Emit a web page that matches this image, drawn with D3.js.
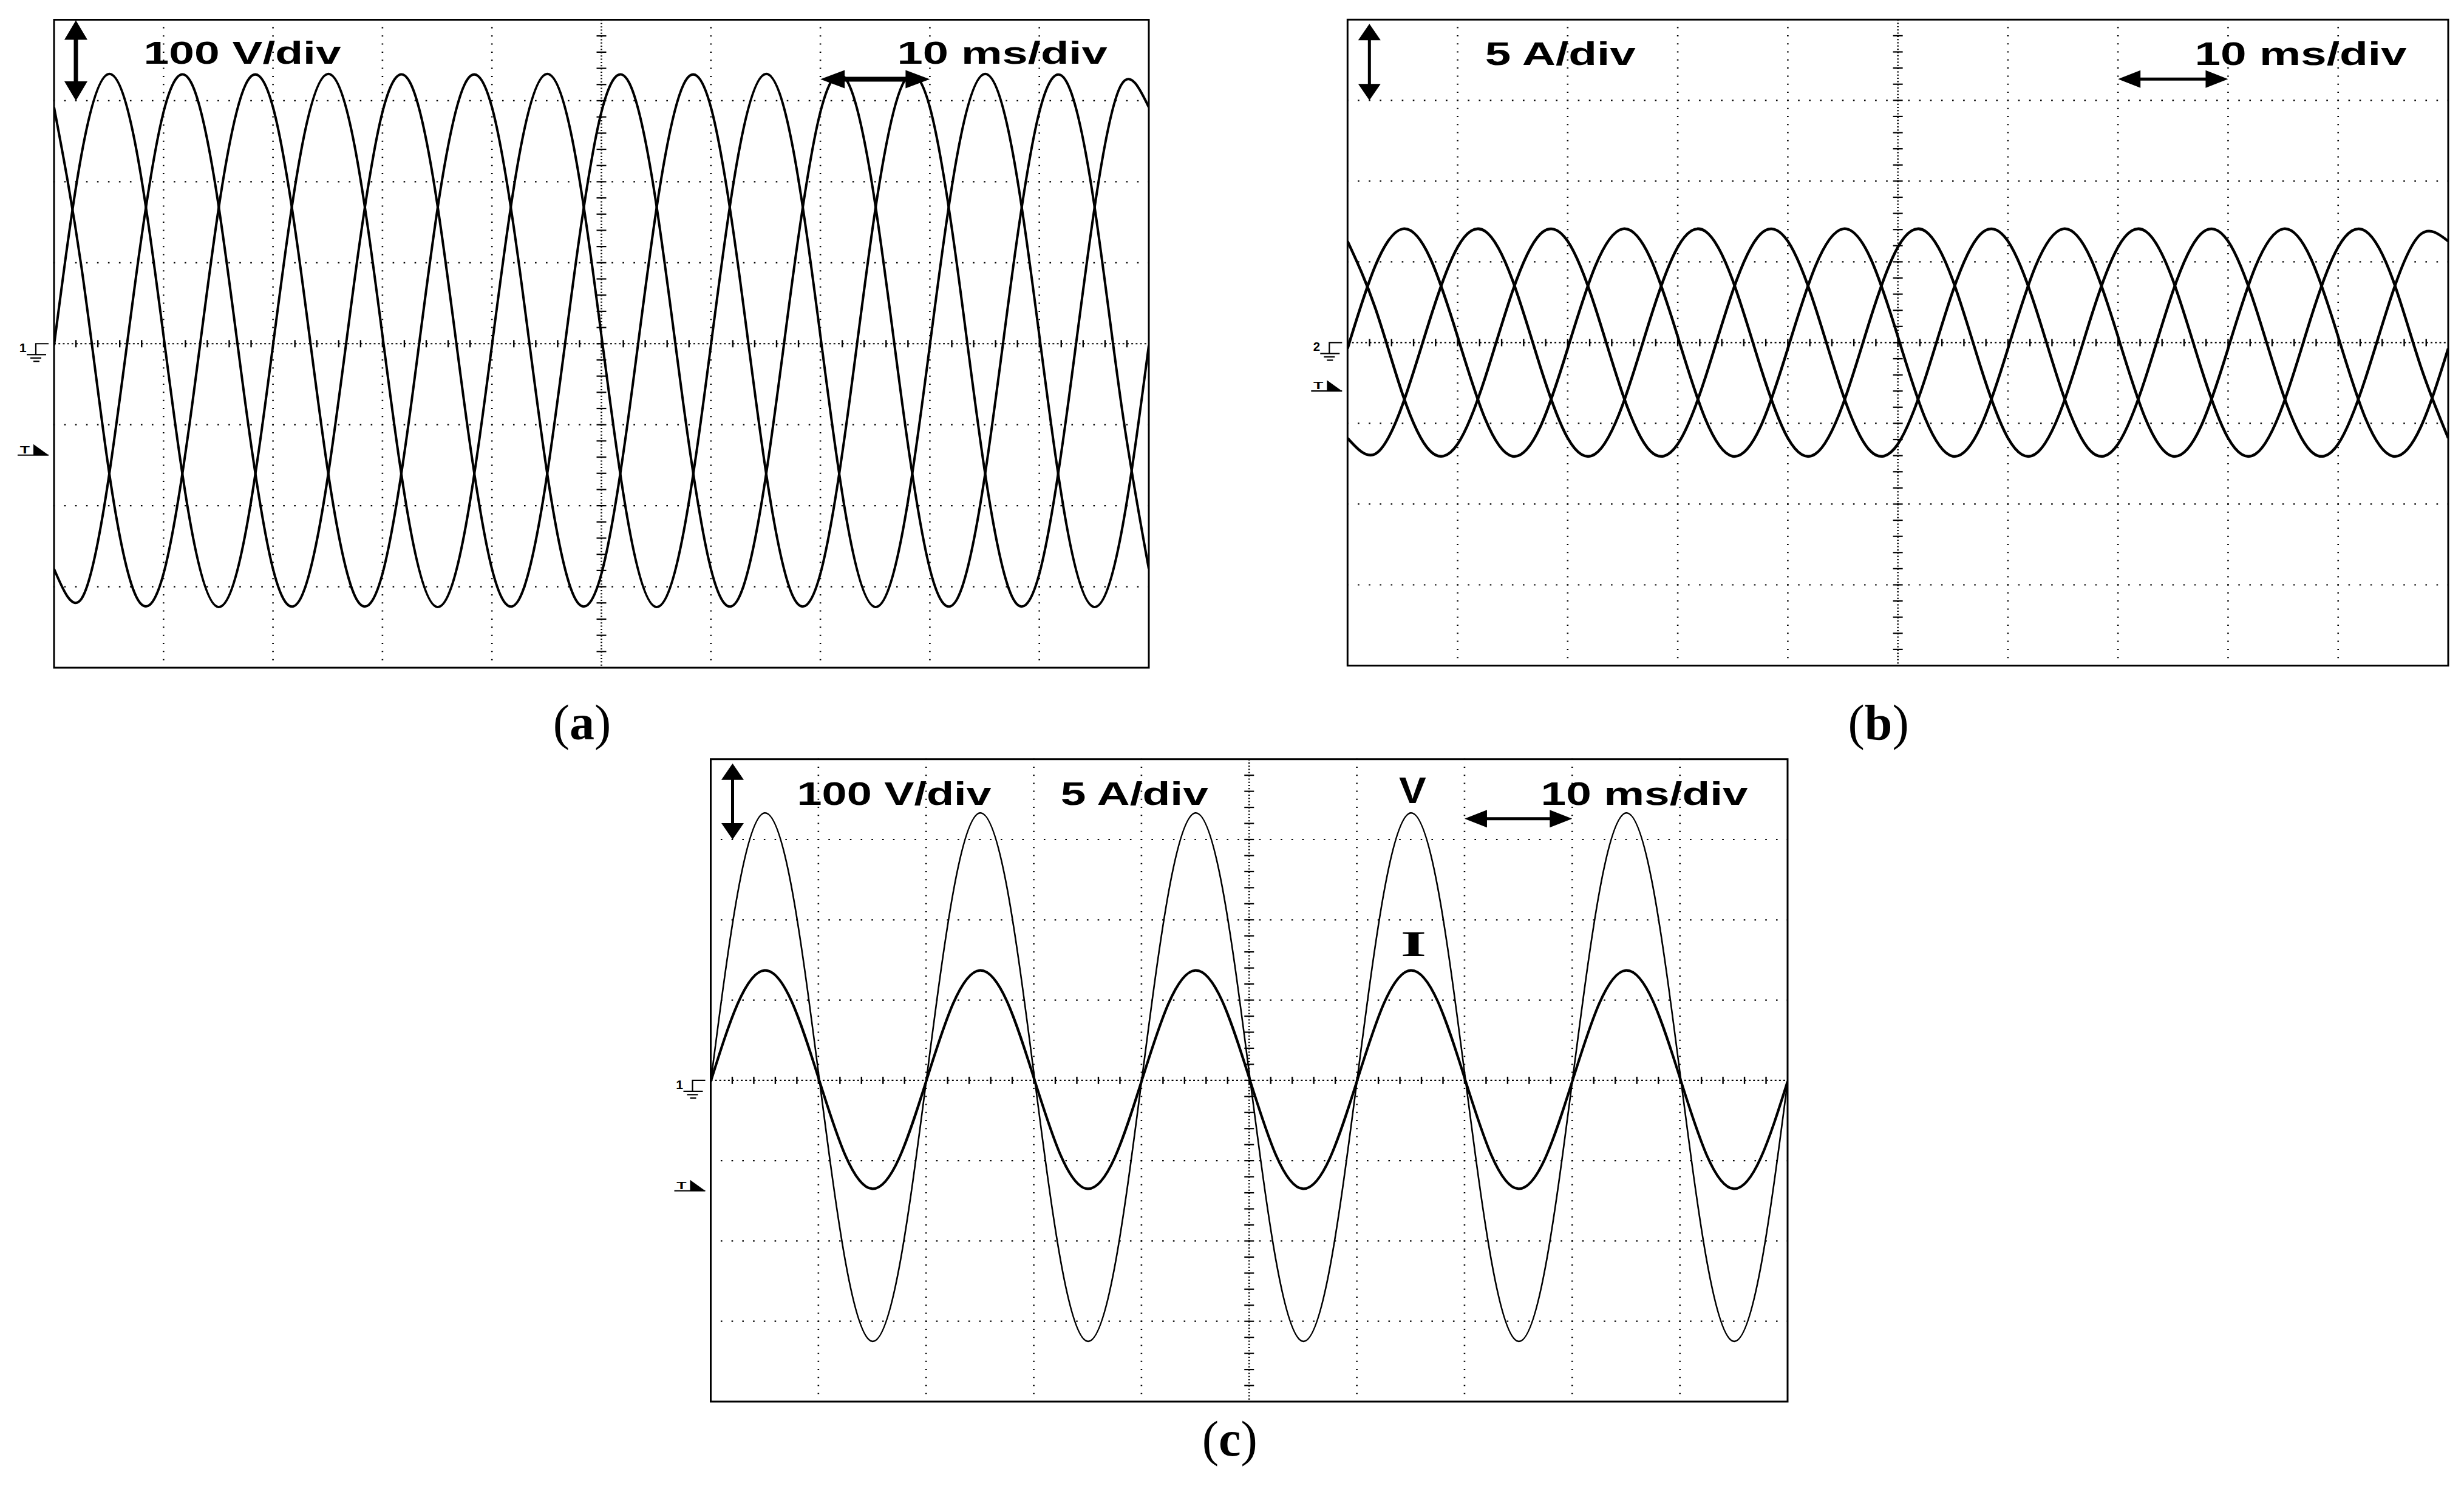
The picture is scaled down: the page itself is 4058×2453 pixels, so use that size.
<!DOCTYPE html>
<html><head><meta charset="utf-8">
<script src="https://cdn.jsdelivr.net/npm/d3@7"></script>
<style>html,body{margin:0;padding:0;background:#fff;}svg{display:block;}</style>
</head><body>
<svg id="chart" width="4058" height="2453"></svg>
<script>
// ---------------- DATA ----------------
// sample times, ms (10 divisions x 10 ms/div)
const timeMs = [0,2.5,5,7.5,10,12.5,15,17.5,20,22.5,25,27.5,30,32.5,35,37.5,40,42.5,45,47.5,50,52.5,55,57.5,60,62.5,65,67.5,70,72.5,75,77.5,80,82.5,85,87.5,90,92.5,95,97.5,100];
// (a) three-phase voltages, V
const voltsA1 = [-2,233,333,241,10,-225,-325,-233,-2,233,333,241,10,-225,-325,-233,-2,233,333,241,10,-225,-325,-233,-2,233,333,241,10,-225,-325,-233,-2,233,333,241,10,-225,-325,-233,-2];
const voltsA2 = [-278,-315,-165,84,286,323,173,-76,-278,-315,-165,84,286,323,173,-76,-278,-315,-165,84,286,323,173,-76,-278,-315,-165,84,286,323,173,-76,-278,-315,-165,84,286,323,173,-76,-278];
const voltsA3 = [292,95,-156,-312,-284,-87,164,320,292,95,-156,-312,-284,-87,164,320,292,95,-156,-312,-284,-87,164,320,292,95,-156,-312,-284,-87,164,320,292,95,-156,-312,-284,-87,164,320,292];
// (b) three-phase currents, A
const ampsB1 = [-0.37,4.72,7.04,5.24,0.37,-4.72,-7.04,-5.24,-0.37,4.72,7.04,5.24,0.37,-4.72,-7.04,-5.24,-0.37,4.72,7.04,5.24,0.37,-4.72,-7.04,-5.24,-0.37,4.72,7.04,5.24,0.37,-4.72,-7.04,-5.24,-0.37,4.72,7.04,5.24,0.37,-4.72,-7.04,-5.24,-0.37];
const ampsB2 = [-5.91,-6.90,-3.84,1.47,5.91,6.90,3.84,-1.47,-5.91,-6.90,-3.84,1.47,5.91,6.90,3.84,-1.47,-5.91,-6.90,-3.84,1.47,5.91,6.90,3.84,-1.47,-5.91,-6.90,-3.84,1.47,5.91,6.90,3.84,-1.47,-5.91,-6.90,-3.84,1.47,5.91,6.90,3.84,-1.47,-5.91];
const ampsB3 = [6.28,2.18,-3.20,-6.71,-6.28,-2.18,3.20,6.71,6.28,2.18,-3.20,-6.71,-6.28,-2.18,3.20,6.71,6.28,2.18,-3.20,-6.71,-6.28,-2.18,3.20,6.71,6.28,2.18,-3.20,-6.71,-6.28,-2.18,3.20,6.71,6.28,2.18,-3.20,-6.71,-6.28,-2.18,3.20,6.71,6.28];
// (c) one phase: voltage (V) and current (A)
const voltsC = [-2,233,333,241,10,-225,-325,-233,-2,233,333,241,10,-225,-325,-233,-2,233,333,241,10,-225,-325,-233,-2,233,333,241,10,-225,-325,-233,-2,233,333,241,10,-225,-325,-233,-2];
const ampsC = [-0.07,4.77,6.85,4.94,0.17,-4.67,-6.75,-4.84,-0.07,4.77,6.85,4.94,0.17,-4.67,-6.75,-4.84,-0.07,4.77,6.85,4.94,0.17,-4.67,-6.75,-4.84,-0.07,4.77,6.85,4.94,0.17,-4.67,-6.75,-4.84,-0.07,4.77,6.85,4.94,0.17,-4.67,-6.75,-4.84,-0.07];
// screen ranges (8 vertical divisions)
const voltRange = [-400, 400];
const ampRange = [-20, 20];
const timeRange = [0, 100];
// channel reference / trigger levels
const triggerVolts = -137.5;
const triggerAmps = -3;
// texts
const voltScaleText = "100 V/div";
const ampScaleText = "5 A/div";
const timeScaleText = "10 ms/div";
const captions = ["a", "b", "c"];
const channelNames = ["1", "2", "1"];
const traceNames = ["V", "I"];

// ---------------- DRAWING ----------------
const svg = d3.select("#chart");
svg.append("rect").attr("width", 4058).attr("height", 2453).attr("fill", "#fff");

const ctx = document.createElement("canvas").getContext("2d");
function fitText(g, str, family, weight, box) {
  const fs = 100;
  ctx.font = `${weight} ${fs}px '${family}'`;
  const m = ctx.measureText(str);
  const inkW = m.actualBoundingBoxLeft + m.actualBoundingBoxRight;
  const inkH = m.actualBoundingBoxAscent + m.actualBoundingBoxDescent;
  const sx = (box[1] - box[0]) / inkW;
  const sy = (box[3] - box[2]) / inkH;
  const tx = box[0] + sx * m.actualBoundingBoxLeft;
  const ty = box[2] + sy * m.actualBoundingBoxAscent;
  g.append("text")
    .attr("transform", `translate(${tx},${ty}) scale(${sx},${sy})`)
    .attr("font-family", `'${family}'`)
    .attr("font-weight", weight)
    .attr("font-size", fs)
    .attr("fill", "#000")
    .text(str);
}

function vArrow(g, cx, ya, yb, headW, headL, shaft) {
  const p = d3.path();
  p.moveTo(cx, ya); p.lineTo(cx + headW / 2, ya + headL); p.lineTo(cx + shaft / 2, ya + headL);
  p.lineTo(cx + shaft / 2, yb - headL); p.lineTo(cx + headW / 2, yb - headL); p.lineTo(cx, yb);
  p.lineTo(cx - headW / 2, yb - headL); p.lineTo(cx - shaft / 2, yb - headL);
  p.lineTo(cx - shaft / 2, ya + headL); p.lineTo(cx - headW / 2, ya + headL); p.closePath();
  g.append("path").attr("d", p.toString()).attr("fill", "#000");
}
function hArrow(g, xa, xb, cy, headH, headL, shaft) {
  const p = d3.path();
  p.moveTo(xa, cy); p.lineTo(xa + headL, cy - headH / 2); p.lineTo(xa + headL, cy - shaft / 2);
  p.lineTo(xb - headL, cy - shaft / 2); p.lineTo(xb - headL, cy - headH / 2); p.lineTo(xb, cy);
  p.lineTo(xb - headL, cy + headH / 2); p.lineTo(xb - headL, cy + shaft / 2);
  p.lineTo(xa + headL, cy + shaft / 2); p.lineTo(xa + headL, cy + headH / 2); p.closePath();
  g.append("path").attr("d", p.toString()).attr("fill", "#000");
}

let clipId = 0;
function drawPanel(cfg) {
  const g = svg.append("g");
  const x = d3.scaleLinear().domain(timeRange).range([cfg.x0, cfg.x1]);
  const y = d3.scaleLinear().domain(cfg.yDomain).range([cfg.y1, cfg.y0]);
  const divX = (cfg.x1 - cfg.x0) / 10, divY = (cfg.y1 - cfg.y0) / 8;
  const xt = x.ticks(10), yt = y.ticks(8);
  const xMid = x.domain()[0] + (x.domain()[1] - x.domain()[0]) / 2;
  const yMid = 0;

  // graticule dotted lines
  g.selectAll(null).data(xt.filter(v => v !== timeRange[0] && v !== timeRange[1] && v !== xMid)).join("line")
    .attr("x1", d => x(d)).attr("x2", d => x(d)).attr("y1", cfg.y0 - 1).attr("y2", cfg.y1)
    .attr("stroke", "#000").attr("stroke-width", 2.6).attr("stroke-dasharray", `2 ${divY / 10 - 2}`);
  g.selectAll(null).data(yt.filter(v => v !== cfg.yDomain[0] && v !== cfg.yDomain[1] && v !== yMid)).join("line")
    .attr("y1", d => y(d)).attr("y2", d => y(d)).attr("x1", cfg.x0 - 1.3).attr("x2", cfg.x1)
    .attr("stroke", "#000").attr("stroke-width", 2.2).attr("stroke-dasharray", `2.6 ${divX / 10 - 2.6}`);
  // center lines with minor ticks
  g.append("line").attr("x1", cfg.x0).attr("x2", cfg.x1).attr("y1", y(yMid)).attr("y2", y(yMid))
    .attr("stroke", "#000").attr("stroke-width", 2.2).attr("stroke-dasharray", `3 ${divX / 25 - 3}`);
  g.append("line").attr("x1", x(xMid)).attr("x2", x(xMid)).attr("y1", cfg.y0).attr("y2", cfg.y1)
    .attr("stroke", "#000").attr("stroke-width", 2.6).attr("stroke-dasharray", `2 ${divY / 25 - 2}`);
  g.selectAll(null).data(x.ticks(50).slice(1, -1)).join("line")
    .attr("x1", d => x(d)).attr("x2", d => x(d)).attr("y1", y(yMid) - 6).attr("y2", y(yMid) + 6)
    .attr("stroke", "#000").attr("stroke-width", 2.4);
  g.selectAll(null).data(y.ticks(40).slice(1, -1)).join("line")
    .attr("y1", d => y(d)).attr("y2", d => y(d)).attr("x1", x(xMid) - 8).attr("x2", x(xMid) + 8)
    .attr("stroke", "#000").attr("stroke-width", 2.2);

  // traces
  const id = "clip" + (clipId++);
  svg.append("clipPath").attr("id", id).append("rect")
    .attr("x", cfg.x0).attr("y", cfg.y0).attr("width", cfg.x1 - cfg.x0).attr("height", cfg.y1 - cfg.y0);
  const tg = g.append("g").attr("clip-path", `url(#${id})`);
  cfg.series.forEach(s => {
    const ys = s.scale === "amp" ? cfg.ampScale(y) : y;
    const line = d3.line().x((d, i) => x(timeMs[i])).y(d => ys(d)).curve(d3.curveNatural);
    tg.append("path").attr("d", line(s.values)).attr("fill", "none")
      .attr("stroke", "#000").attr("stroke-width", s.width).attr("stroke-linejoin", "round");
  });

  // border
  g.append("rect").attr("x", cfg.x0).attr("y", cfg.y0).attr("width", cfg.x1 - cfg.x0).attr("height", cfg.y1 - cfg.y0)
    .attr("fill", "none").attr("stroke", "#000").attr("stroke-width", 3);

  // arrows (one division each)
  const a = cfg.arrow;
  vArrow(g, cfg.x0 + 36, y(cfg.yDomain[1]) + a.vTop, y(cfg.yDomain[1] - (cfg.yDomain[1] - cfg.yDomain[0]) / 8), a.vHeadW, a.vHeadL, a.vShaft);
  hArrow(g, x(70), x(80), cfg.y0 + 98, a.hHeadH, a.hHeadL, a.hShaft);

  // texts
  cfg.texts.forEach(t => fitText(g, t.str, t.family || "Liberation Sans", t.weight || "bold", t.box));

  // channel ground marker
  const zy = y(0);
  fitText(g, cfg.channel, "Liberation Sans", "bold", [cfg.x0 - 56, cfg.x0 - 46, zy, zy + 14]);
  g.append("path").attr("d", `M${cfg.x0 - 9},${zy}H${cfg.x0 - 30}V${zy + 18}`)
    .attr("fill", "none").attr("stroke", "#000").attr("stroke-width", 2.2);
  [[-45, -13, 18], [-39, -21, 23.5], [-34, -24, 29]].forEach(r =>
    g.append("line").attr("x1", cfg.x0 + r[0]).attr("x2", cfg.x0 + r[1]).attr("y1", zy + r[2]).attr("y2", zy + r[2])
      .attr("stroke", "#000").attr("stroke-width", 2.2));
  // trigger marker
  const ty = y(cfg.trigger);
  fitText(g, "T", "Liberation Sans", "bold", [cfg.x0 - 56, cfg.x0 - 40, ty - 15, ty - 3]);
  g.append("line").attr("x1", cfg.x0 - 60).attr("x2", cfg.x0 - 9).attr("y1", ty).attr("y2", ty)
    .attr("stroke", "#000").attr("stroke-width", 2.2);
  g.append("path").attr("d", `M${cfg.x0 - 34},${ty - 18}V${ty}H${cfg.x0 - 9}Z`).attr("fill", "#000");

  // caption
  const cap = g.append("text").attr("x", (cfg.x0 + cfg.x1) / 2 - 32).attr("y", cfg.capY)
    .attr("text-anchor", "middle").attr("font-family", "'Liberation Serif', 'Times New Roman', serif")
    .attr("font-size", 82).attr("fill", "#000");
  cap.append("tspan").text("(");
  cap.append("tspan").attr("font-weight", "bold").text(cfg.caption);
  cap.append("tspan").text(")");
}

const bigArrow = {vTop: 1, vHeadW: 38, vHeadL: 32, vShaft: 7, hHeadH: 30, hHeadL: 40, hShaft: 8};
const thinArrow = {vTop: 7, vHeadW: 37, vHeadL: 27, vShaft: 5, hHeadH: 29, hHeadL: 37, hShaft: 5};

drawPanel({
  x0: 89, x1: 1892, y0: 32.5, y1: 1100, yDomain: voltRange, trigger: triggerVolts,
  channel: channelNames[0], caption: captions[0], capY: 1218, arrow: bigArrow,
  series: [{values: voltsA1, width: 4}, {values: voltsA2, width: 4}, {values: voltsA3, width: 4}],
  texts: [
    {str: voltScaleText, box: [241, 562, 66.7, 106]},
    {str: timeScaleText, box: [1482, 1824, 66.7, 106]}
  ]
});
drawPanel({
  x0: 2219.3, x1: 4032, y0: 32.3, y1: 1096.5, yDomain: ampRange, trigger: triggerAmps,
  channel: channelNames[1], caption: captions[1], capY: 1218, arrow: thinArrow,
  series: [{values: ampsB1, width: 4.5}, {values: ampsB2, width: 4.5}, {values: ampsB3, width: 4.5}],
  texts: [
    {str: ampScaleText, box: [2448, 2697, 68, 108]},
    {str: timeScaleText, box: [3619, 3964, 68, 108]}
  ]
});
drawPanel({
  x0: 1170.5, x1: 2944, y0: 1250.7, y1: 2309, yDomain: voltRange, trigger: triggerVolts,
  channel: channelNames[2], caption: captions[2], capY: 2398, arrow: thinArrow,
  ampScale: yv => d3.scaleLinear().domain(ampRange).range(yv.range()),
  series: [{values: voltsC, width: 2.6}, {values: ampsC, width: 4.2, scale: "amp"}],
  texts: [
    {str: voltScaleText, box: [1317, 1633, 1286.7, 1326.7]},
    {str: ampScaleText, box: [1749, 1993, 1286.7, 1326.7]},
    {str: traceNames[0], box: [2304, 2349, 1281.7, 1323.3]},
    {str: timeScaleText, box: [2542, 2879, 1286.7, 1326.7]},
    {str: traceNames[1], family: "Liberation Serif", box: [2310, 2346, 1537, 1576]}
  ]
});
</script>
</body></html>
